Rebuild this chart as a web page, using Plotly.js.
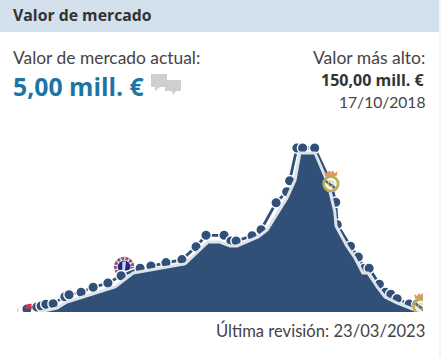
<!DOCTYPE html>
<html><head><meta charset="utf-8">
<script src="https://cdn.plot.ly/plotly-3.0.1.min.js"></script>
<style>html,body{margin:0;padding:0;background:#fff;overflow:hidden}#c{width:441px;height:357px}</style>
</head><body><div id="c"></div>
<script>
const years=[2009.22,2009.55,2009.69,2009.85,2010.09,2010.48,2010.62,2011.02,2011.42,2011.91,2012.35,2012.98,2013.34,2013.84,2014.37,2014.84,2015.17,2015.77,2016.0,2016.17,2016.70,2017.0,2017.5,2017.85,2017.95,2018.19,2018.38,2018.78,2019.32,2019.48,2019.53,2019.97,2020.23,2020.43,2020.59,2020.93,2021.13,2021.31,2021.52,2021.92,2022.18];
const values=[0.5,2.3,3.3,4.8,5.4,11.9,13.7,16,20.6,24.6,31.4,38.3,40.4,43.5,46.3,58.3,68.9,68.9,63.6,63.6,68.5,74.1,99.2,109.4,119.6,150,150,150,117.5,99.6,78.8,58.8,48.8,38.3,38.3,23.4,16,14.1,10,5.1,5];
const areaYears=[2009.65,2010.22,2010.55,2012.15,2012.75,2014.47,2015.24,2015.63,2015.97,2016.2,2016.9,2017.2,2017.86,2018.13,2018.29,2018.79,2019.22,2019.45,2019.49,2019.85,2020.12,2020.38,2020.55,2020.88,2021.12,2021.51,2021.95,2022.28];
const areaValues=[0,3.7,9.3,23.2,36.2,44.6,65,65,61.3,61.3,69.7,76.2,105.9,122.6,147.7,147.7,119.8,92.9,79.9,61.3,50.2,36.2,36.2,22.3,13.9,8.4,3.7,0];
const logoYears=[2009.22,2012.45,2019.32,2022.31];
const logoValues=[3.5,39.5,119.4,5.5];
const title="Valor de mercado", currentLabel="Valor de mercado actual:", currentValue="5,00 mill. €";
const highLabel="Valor más alto:", highValue="150,00 mill. €", highDate="17/10/2018", updated="Última revisión: 23/03/2023";
const W=441,H=357,NAVY="#315078",FONT="Lato, 'Open Sans', sans-serif",BOLD="'Open Sans', sans-serif",TXT="#333";
const px=x=>x/W, py=y=>1-y/H;
const svg=s=>"data:image/svg+xml;utf8,"+encodeURIComponent('<svg xmlns="http://www.w3.org/2000/svg" viewBox="0 0 24 24">'+s+'</svg>');
const lille=svg('<path d="M9 15c2-4 5-6 8-5 1 1 0 2-1 2l3 2-1 1z" fill="#d8324a"/><path d="M1 15h2v4H1z" fill="#f5d3d9"/><path d="M2 19.5h20v2.5H2z" fill="#ea9dab"/>');
const chelsea=svg('<circle cx="12" cy="12" r="11.5" fill="#d5c8bc"/><circle cx="12" cy="12" r="9.3" fill="#fff" stroke="#8d4f88" stroke-width="3.4" stroke-dasharray="3 1.5"/><circle cx="12" cy="12" r="7" fill="#23287f"/><path d="M10 6h4l-1 9 2 3h-5z" fill="#cdd2ea"/>');
const real=svg('<path d="M6 7l-1-5 3 2 2-3 2 2 2-2 2 3 3-2-1 5z" fill="#d99a63"/><circle cx="12" cy="15" r="7.6" fill="#f7f5e6" stroke="#b9ac5a" stroke-width="2.8"/><path d="M7 11l10 7-2 2.5-9-7z" fill="#41699f"/><circle cx="12" cy="15" r="3" fill="none" stroke="#d9c76a" stroke-width="1"/>');
const logoAt=(src,i,layer,size)=>({source:src,xref:"x",yref:"y",x:logoYears[i],y:logoValues[i],sizex:size/30.1,sizey:size/1.0767,xanchor:"center",yanchor:"middle",layer:layer,sizing:"stretch"});
const ann=(t,x,y,a,size,color,bold)=>({text:bold?"<b>"+t+"</b>":t,xref:"paper",yref:"paper",x:px(x+(a==="left"?-3:3)),y:py(y),xanchor:a,yanchor:"middle",showarrow:false,font:{family:bold?BOLD:FONT,size:size,color:color}});
const data=[
 {x:areaYears,y:areaValues,yaxis:"y2",mode:"lines",fill:"tozeroy",fillcolor:NAVY,line:{color:"#dde3ea",width:3},hoverinfo:"skip"},
 {x:years,y:values,mode:"lines",line:{color:"#fff",width:5.5},hoverinfo:"skip"},
 {x:years,y:values,mode:"lines+markers",line:{color:NAVY,width:2.8},marker:{color:NAVY,size:10.5,line:{color:"#fff",width:1.4}},hoverinfo:"skip"}
];
const rect=(x0,y0,x1,y1,c)=>({type:"rect",xref:"paper",yref:"paper",x0:px(x0),x1:px(x1),y0:py(y0),y1:py(y1),fillcolor:c,line:{width:0},layer:"below"});
const poly=(pts,c)=>({type:"path",xref:"paper",yref:"paper",path:"M"+pts.map(p=>px(p[0])+" "+py(p[1])).join("L")+"Z",fillcolor:c,line:{width:0},layer:"above"});
const layout={width:W,height:H,margin:{l:0,r:0,t:0,b:0},paper_bgcolor:"#fff",plot_bgcolor:"rgba(0,0,0,0)",showlegend:false,
 xaxis:{domain:[px(14),px(423)],range:[2008.79,2022.38],visible:false,fixedrange:true},
 yaxis:{domain:[py(312),py(130)],range:[-2.32,166.7],visible:false,fixedrange:true},
 yaxis2:{domain:[py(312),py(130)],range:[0,169.02],visible:false,overlaying:"y",fixedrange:true},
 shapes:[rect(0,0,439,32,"#d2e1ec"),rect(439,0,441,357,"#f4f4f4"),
  poly([[151,74],[167,74],[167,87],[160,87],[155,91],[155,87],[151,87]],"#cfcfcf"),
  poly([[165,80],[181,80],[181,91],[176,91],[173,95],[172,91],[165,91]],"#cfcfcf")],
 annotations:[
  ann(title,14,15,"left",15.8,TXT,true),
  ann(currentLabel,14,58,"left",17.4,"#444"),
  ann(currentValue,14,86,"left",24.8,"#1d75a3",true),
  ann(highLabel,424,58,"right",17.5,"#444"),
  ann(highValue,424,80,"right",16,TXT,true),
  ann(highDate,424,102,"right",15.6,"#444"),
  ann(updated,424,330,"right",16.6,"#444")
 ],
 images:[logoAt(lille,0,"above",22),logoAt(chelsea,1,"below",22),logoAt(real,2,"above",23),logoAt(real,3,"above",23)]
};
Plotly.newPlot("c",data,layout,{displayModeBar:false,staticPlot:true});
</script></body></html>
